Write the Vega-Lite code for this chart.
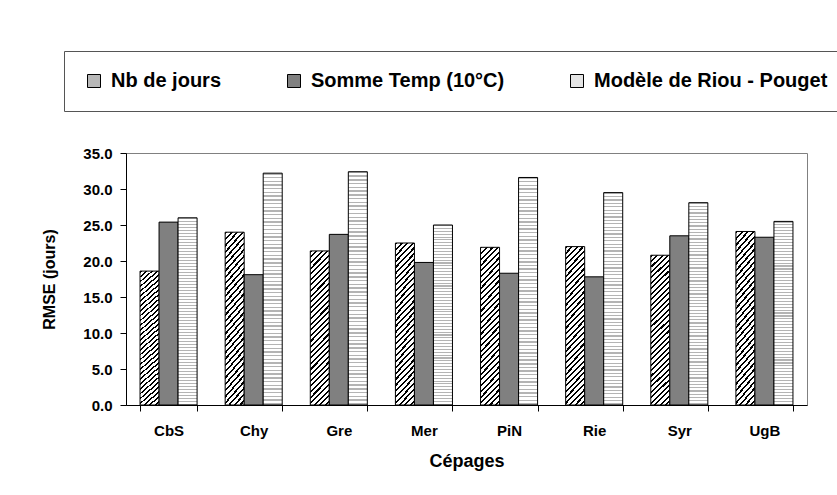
{
  "$schema": "https://vega.github.io/schema/vega-lite/v6.json",
  "width": 681,
  "height": 252,
  "autosize": {"type": "none"},
  "padding": {"left": 126, "top": 153, "right": 30, "bottom": 90},
  "background": "white",
  "config": {
    "view": {"stroke": "#808080", "strokeWidth": 1},
    "axis": {
      "labelFont": "Liberation Sans",
      "labelFontWeight": "bold",
      "labelColor": "black",
      "titleFont": "Liberation Sans",
      "titleFontWeight": "bold",
      "titleColor": "black",
      "domainColor": "black",
      "tickColor": "black",
      "grid": false
    },
    "legend": {
      "labelFont": "Liberation Sans",
      "labelFontWeight": "bold",
      "labelColor": "black"
    }
  },
  "data": {
    "values": [
      {"cepage": "CbS", "serie": "Nb de jours", "rmse": 18.6},
      {"cepage": "CbS", "serie": "Somme Temp (10°C)", "rmse": 25.4},
      {"cepage": "CbS", "serie": "Modèle de Riou - Pouget", "rmse": 26.0},
      {"cepage": "Chy", "serie": "Nb de jours", "rmse": 24.0},
      {"cepage": "Chy", "serie": "Somme Temp (10°C)", "rmse": 18.1},
      {"cepage": "Chy", "serie": "Modèle de Riou - Pouget", "rmse": 32.2},
      {"cepage": "Gre", "serie": "Nb de jours", "rmse": 21.4},
      {"cepage": "Gre", "serie": "Somme Temp (10°C)", "rmse": 23.7},
      {"cepage": "Gre", "serie": "Modèle de Riou - Pouget", "rmse": 32.4},
      {"cepage": "Mer", "serie": "Nb de jours", "rmse": 22.5},
      {"cepage": "Mer", "serie": "Somme Temp (10°C)", "rmse": 19.8},
      {"cepage": "Mer", "serie": "Modèle de Riou - Pouget", "rmse": 25.0},
      {"cepage": "PiN", "serie": "Nb de jours", "rmse": 21.9},
      {"cepage": "PiN", "serie": "Somme Temp (10°C)", "rmse": 18.3},
      {"cepage": "PiN", "serie": "Modèle de Riou - Pouget", "rmse": 31.6},
      {"cepage": "Rie", "serie": "Nb de jours", "rmse": 22.0},
      {"cepage": "Rie", "serie": "Somme Temp (10°C)", "rmse": 17.8},
      {"cepage": "Rie", "serie": "Modèle de Riou - Pouget", "rmse": 29.5},
      {"cepage": "Syr", "serie": "Nb de jours", "rmse": 20.8},
      {"cepage": "Syr", "serie": "Somme Temp (10°C)", "rmse": 23.5},
      {"cepage": "Syr", "serie": "Modèle de Riou - Pouget", "rmse": 28.1},
      {"cepage": "UgB", "serie": "Nb de jours", "rmse": 24.1},
      {"cepage": "UgB", "serie": "Somme Temp (10°C)", "rmse": 23.3},
      {"cepage": "UgB", "serie": "Modèle de Riou - Pouget", "rmse": 25.5}
    ]
  },
  "mark": {"type": "bar", "stroke": "black", "strokeWidth": 1, "fillOpacity": 1},
  "encoding": {
    "x": {
      "field": "cepage",
      "type": "nominal",
      "sort": null,
      "scale": {"paddingInner": 0.33, "paddingOuter": 0.165},
      "axis": {
        "title": "Cépages",
        "titleFontSize": 18,
        "titlePadding": 14,
        "labelFontSize": 15,
        "labelAngle": 0,
        "labelPadding": 12,
        "tickBand": "extent",
        "tickSize": 6
      }
    },
    "xOffset": {
      "field": "serie",
      "type": "nominal",
      "scale": {"domain": ["Nb de jours", "Somme Temp (10°C)", "Modèle de Riou - Pouget"], "paddingInner": 0, "paddingOuter": 0}
    },
    "y": {
      "field": "rmse",
      "type": "quantitative",
      "scale": {"domain": [0, 35], "nice": false},
      "axis": {
        "title": "RMSE (jours)",
        "titleFontSize": 16,
        "titlePadding": 25,
        "labelFontSize": 15,
        "labelPadding": 8,
        "values": [0, 5, 10, 15, 20, 25, 30, 35],
        "format": ".1f",
        "tickSize": 6
      }
    },
    "fill": {
      "field": "serie",
      "type": "nominal",
      "condition": [
        {"test": "datum.serie === 'Nb de jours'", "value": {"gradient": "linear", "x1": 0, "y1": 0, "x2": 0.14, "y2": 1.12, "stops": [
            {"offset": 0, "color": "#000000"}, {"offset": 0.012, "color": "#000000"}, {"offset": 0.012, "color": "#ffffff"}, {"offset": 0.032, "color": "#ffffff"},
            {"offset": 0.032, "color": "#000000"}, {"offset": 0.044, "color": "#000000"}, {"offset": 0.044, "color": "#ffffff"}, {"offset": 0.064, "color": "#ffffff"},
            {"offset": 0.064, "color": "#000000"}, {"offset": 0.076, "color": "#000000"}, {"offset": 0.076, "color": "#ffffff"}, {"offset": 0.096, "color": "#ffffff"},
            {"offset": 0.096, "color": "#000000"}, {"offset": 0.108, "color": "#000000"}, {"offset": 0.108, "color": "#ffffff"}, {"offset": 0.128, "color": "#ffffff"},
            {"offset": 0.128, "color": "#000000"}, {"offset": 0.14, "color": "#000000"}, {"offset": 0.14, "color": "#ffffff"}, {"offset": 0.16, "color": "#ffffff"},
            {"offset": 0.16, "color": "#000000"}, {"offset": 0.172, "color": "#000000"}, {"offset": 0.172, "color": "#ffffff"}, {"offset": 0.192, "color": "#ffffff"},
            {"offset": 0.192, "color": "#000000"}, {"offset": 0.204, "color": "#000000"}, {"offset": 0.204, "color": "#ffffff"}, {"offset": 0.224, "color": "#ffffff"},
            {"offset": 0.224, "color": "#000000"}, {"offset": 0.236, "color": "#000000"}, {"offset": 0.236, "color": "#ffffff"}, {"offset": 0.256, "color": "#ffffff"},
            {"offset": 0.256, "color": "#000000"}, {"offset": 0.268, "color": "#000000"}, {"offset": 0.268, "color": "#ffffff"}, {"offset": 0.288, "color": "#ffffff"},
            {"offset": 0.288, "color": "#000000"}, {"offset": 0.3, "color": "#000000"}, {"offset": 0.3, "color": "#ffffff"}, {"offset": 0.32, "color": "#ffffff"},
            {"offset": 0.32, "color": "#000000"}, {"offset": 0.332, "color": "#000000"}, {"offset": 0.332, "color": "#ffffff"}, {"offset": 0.352, "color": "#ffffff"},
            {"offset": 0.352, "color": "#000000"}, {"offset": 0.364, "color": "#000000"}, {"offset": 0.364, "color": "#ffffff"}, {"offset": 0.384, "color": "#ffffff"},
            {"offset": 0.384, "color": "#000000"}, {"offset": 0.396, "color": "#000000"}, {"offset": 0.396, "color": "#ffffff"}, {"offset": 0.416, "color": "#ffffff"},
            {"offset": 0.416, "color": "#000000"}, {"offset": 0.428, "color": "#000000"}, {"offset": 0.428, "color": "#ffffff"}, {"offset": 0.448, "color": "#ffffff"},
            {"offset": 0.448, "color": "#000000"}, {"offset": 0.46, "color": "#000000"}, {"offset": 0.46, "color": "#ffffff"}, {"offset": 0.48, "color": "#ffffff"},
            {"offset": 0.48, "color": "#000000"}, {"offset": 0.492, "color": "#000000"}, {"offset": 0.492, "color": "#ffffff"}, {"offset": 0.512, "color": "#ffffff"},
            {"offset": 0.512, "color": "#000000"}, {"offset": 0.524, "color": "#000000"}, {"offset": 0.524, "color": "#ffffff"}, {"offset": 0.544, "color": "#ffffff"},
            {"offset": 0.544, "color": "#000000"}, {"offset": 0.556, "color": "#000000"}, {"offset": 0.556, "color": "#ffffff"}, {"offset": 0.576, "color": "#ffffff"},
            {"offset": 0.576, "color": "#000000"}, {"offset": 0.588, "color": "#000000"}, {"offset": 0.588, "color": "#ffffff"}, {"offset": 0.608, "color": "#ffffff"},
            {"offset": 0.608, "color": "#000000"}, {"offset": 0.62, "color": "#000000"}, {"offset": 0.62, "color": "#ffffff"}, {"offset": 0.64, "color": "#ffffff"},
            {"offset": 0.64, "color": "#000000"}, {"offset": 0.652, "color": "#000000"}, {"offset": 0.652, "color": "#ffffff"}, {"offset": 0.672, "color": "#ffffff"},
            {"offset": 0.672, "color": "#000000"}, {"offset": 0.684, "color": "#000000"}, {"offset": 0.684, "color": "#ffffff"}, {"offset": 0.704, "color": "#ffffff"},
            {"offset": 0.704, "color": "#000000"}, {"offset": 0.716, "color": "#000000"}, {"offset": 0.716, "color": "#ffffff"}, {"offset": 0.736, "color": "#ffffff"},
            {"offset": 0.736, "color": "#000000"}, {"offset": 0.748, "color": "#000000"}, {"offset": 0.748, "color": "#ffffff"}, {"offset": 0.768, "color": "#ffffff"},
            {"offset": 0.768, "color": "#000000"}, {"offset": 0.78, "color": "#000000"}, {"offset": 0.78, "color": "#ffffff"}, {"offset": 0.8, "color": "#ffffff"},
            {"offset": 0.8, "color": "#000000"}, {"offset": 0.812, "color": "#000000"}, {"offset": 0.812, "color": "#ffffff"}, {"offset": 0.832, "color": "#ffffff"},
            {"offset": 0.832, "color": "#000000"}, {"offset": 0.844, "color": "#000000"}, {"offset": 0.844, "color": "#ffffff"}, {"offset": 0.864, "color": "#ffffff"},
            {"offset": 0.864, "color": "#000000"}, {"offset": 0.876, "color": "#000000"}, {"offset": 0.876, "color": "#ffffff"}, {"offset": 0.896, "color": "#ffffff"},
            {"offset": 0.896, "color": "#000000"}, {"offset": 0.908, "color": "#000000"}, {"offset": 0.908, "color": "#ffffff"}, {"offset": 0.928, "color": "#ffffff"},
            {"offset": 0.928, "color": "#000000"}, {"offset": 0.94, "color": "#000000"}, {"offset": 0.94, "color": "#ffffff"}, {"offset": 0.96, "color": "#ffffff"},
            {"offset": 0.96, "color": "#000000"}, {"offset": 0.972, "color": "#000000"}, {"offset": 0.972, "color": "#ffffff"}, {"offset": 1, "color": "#ffffff"}
          ]}},
        {"test": "datum.serie === 'Modèle de Riou - Pouget'", "value": {"gradient": "linear", "x1": 0, "y1": 0, "x2": 0, "y2": 1, "stops": [
            {"offset": 0, "color": "#b4b4b4"}, {"offset": 0.006, "color": "#b4b4b4"}, {"offset": 0.006, "color": "#ffffff"}, {"offset": 0.016, "color": "#ffffff"},
            {"offset": 0.016, "color": "#b4b4b4"}, {"offset": 0.022, "color": "#b4b4b4"}, {"offset": 0.022, "color": "#ffffff"}, {"offset": 0.032, "color": "#ffffff"},
            {"offset": 0.032, "color": "#b4b4b4"}, {"offset": 0.038, "color": "#b4b4b4"}, {"offset": 0.038, "color": "#ffffff"}, {"offset": 0.048, "color": "#ffffff"},
            {"offset": 0.048, "color": "#b4b4b4"}, {"offset": 0.054, "color": "#b4b4b4"}, {"offset": 0.054, "color": "#ffffff"}, {"offset": 0.064, "color": "#ffffff"},
            {"offset": 0.064, "color": "#b4b4b4"}, {"offset": 0.07, "color": "#b4b4b4"}, {"offset": 0.07, "color": "#ffffff"}, {"offset": 0.08, "color": "#ffffff"},
            {"offset": 0.08, "color": "#b4b4b4"}, {"offset": 0.086, "color": "#b4b4b4"}, {"offset": 0.086, "color": "#ffffff"}, {"offset": 0.096, "color": "#ffffff"},
            {"offset": 0.096, "color": "#b4b4b4"}, {"offset": 0.102, "color": "#b4b4b4"}, {"offset": 0.102, "color": "#ffffff"}, {"offset": 0.112, "color": "#ffffff"},
            {"offset": 0.112, "color": "#b4b4b4"}, {"offset": 0.118, "color": "#b4b4b4"}, {"offset": 0.118, "color": "#ffffff"}, {"offset": 0.128, "color": "#ffffff"},
            {"offset": 0.128, "color": "#b4b4b4"}, {"offset": 0.134, "color": "#b4b4b4"}, {"offset": 0.134, "color": "#ffffff"}, {"offset": 0.144, "color": "#ffffff"},
            {"offset": 0.144, "color": "#b4b4b4"}, {"offset": 0.15, "color": "#b4b4b4"}, {"offset": 0.15, "color": "#ffffff"}, {"offset": 0.16, "color": "#ffffff"},
            {"offset": 0.16, "color": "#b4b4b4"}, {"offset": 0.166, "color": "#b4b4b4"}, {"offset": 0.166, "color": "#ffffff"}, {"offset": 0.176, "color": "#ffffff"},
            {"offset": 0.176, "color": "#b4b4b4"}, {"offset": 0.182, "color": "#b4b4b4"}, {"offset": 0.182, "color": "#ffffff"}, {"offset": 0.192, "color": "#ffffff"},
            {"offset": 0.192, "color": "#b4b4b4"}, {"offset": 0.198, "color": "#b4b4b4"}, {"offset": 0.198, "color": "#ffffff"}, {"offset": 0.208, "color": "#ffffff"},
            {"offset": 0.208, "color": "#b4b4b4"}, {"offset": 0.214, "color": "#b4b4b4"}, {"offset": 0.214, "color": "#ffffff"}, {"offset": 0.224, "color": "#ffffff"},
            {"offset": 0.224, "color": "#b4b4b4"}, {"offset": 0.23, "color": "#b4b4b4"}, {"offset": 0.23, "color": "#ffffff"}, {"offset": 0.24, "color": "#ffffff"},
            {"offset": 0.24, "color": "#b4b4b4"}, {"offset": 0.246, "color": "#b4b4b4"}, {"offset": 0.246, "color": "#ffffff"}, {"offset": 0.256, "color": "#ffffff"},
            {"offset": 0.256, "color": "#b4b4b4"}, {"offset": 0.262, "color": "#b4b4b4"}, {"offset": 0.262, "color": "#ffffff"}, {"offset": 0.272, "color": "#ffffff"},
            {"offset": 0.272, "color": "#b4b4b4"}, {"offset": 0.278, "color": "#b4b4b4"}, {"offset": 0.278, "color": "#ffffff"}, {"offset": 0.288, "color": "#ffffff"},
            {"offset": 0.288, "color": "#b4b4b4"}, {"offset": 0.294, "color": "#b4b4b4"}, {"offset": 0.294, "color": "#ffffff"}, {"offset": 0.304, "color": "#ffffff"},
            {"offset": 0.304, "color": "#b4b4b4"}, {"offset": 0.31, "color": "#b4b4b4"}, {"offset": 0.31, "color": "#ffffff"}, {"offset": 0.32, "color": "#ffffff"},
            {"offset": 0.32, "color": "#b4b4b4"}, {"offset": 0.326, "color": "#b4b4b4"}, {"offset": 0.326, "color": "#ffffff"}, {"offset": 0.336, "color": "#ffffff"},
            {"offset": 0.336, "color": "#b4b4b4"}, {"offset": 0.342, "color": "#b4b4b4"}, {"offset": 0.342, "color": "#ffffff"}, {"offset": 0.352, "color": "#ffffff"},
            {"offset": 0.352, "color": "#b4b4b4"}, {"offset": 0.358, "color": "#b4b4b4"}, {"offset": 0.358, "color": "#ffffff"}, {"offset": 0.368, "color": "#ffffff"},
            {"offset": 0.368, "color": "#b4b4b4"}, {"offset": 0.374, "color": "#b4b4b4"}, {"offset": 0.374, "color": "#ffffff"}, {"offset": 0.384, "color": "#ffffff"},
            {"offset": 0.384, "color": "#b4b4b4"}, {"offset": 0.39, "color": "#b4b4b4"}, {"offset": 0.39, "color": "#ffffff"}, {"offset": 0.4, "color": "#ffffff"},
            {"offset": 0.4, "color": "#b4b4b4"}, {"offset": 0.406, "color": "#b4b4b4"}, {"offset": 0.406, "color": "#ffffff"}, {"offset": 0.416, "color": "#ffffff"},
            {"offset": 0.416, "color": "#b4b4b4"}, {"offset": 0.422, "color": "#b4b4b4"}, {"offset": 0.422, "color": "#ffffff"}, {"offset": 0.432, "color": "#ffffff"},
            {"offset": 0.432, "color": "#b4b4b4"}, {"offset": 0.438, "color": "#b4b4b4"}, {"offset": 0.438, "color": "#ffffff"}, {"offset": 0.448, "color": "#ffffff"},
            {"offset": 0.448, "color": "#b4b4b4"}, {"offset": 0.454, "color": "#b4b4b4"}, {"offset": 0.454, "color": "#ffffff"}, {"offset": 0.464, "color": "#ffffff"},
            {"offset": 0.464, "color": "#b4b4b4"}, {"offset": 0.47, "color": "#b4b4b4"}, {"offset": 0.47, "color": "#ffffff"}, {"offset": 0.48, "color": "#ffffff"},
            {"offset": 0.48, "color": "#b4b4b4"}, {"offset": 0.486, "color": "#b4b4b4"}, {"offset": 0.486, "color": "#ffffff"}, {"offset": 0.496, "color": "#ffffff"},
            {"offset": 0.496, "color": "#b4b4b4"}, {"offset": 0.502, "color": "#b4b4b4"}, {"offset": 0.502, "color": "#ffffff"}, {"offset": 0.512, "color": "#ffffff"},
            {"offset": 0.512, "color": "#b4b4b4"}, {"offset": 0.518, "color": "#b4b4b4"}, {"offset": 0.518, "color": "#ffffff"}, {"offset": 0.528, "color": "#ffffff"},
            {"offset": 0.528, "color": "#b4b4b4"}, {"offset": 0.534, "color": "#b4b4b4"}, {"offset": 0.534, "color": "#ffffff"}, {"offset": 0.544, "color": "#ffffff"},
            {"offset": 0.544, "color": "#b4b4b4"}, {"offset": 0.55, "color": "#b4b4b4"}, {"offset": 0.55, "color": "#ffffff"}, {"offset": 0.56, "color": "#ffffff"},
            {"offset": 0.56, "color": "#b4b4b4"}, {"offset": 0.566, "color": "#b4b4b4"}, {"offset": 0.566, "color": "#ffffff"}, {"offset": 0.576, "color": "#ffffff"},
            {"offset": 0.576, "color": "#b4b4b4"}, {"offset": 0.582, "color": "#b4b4b4"}, {"offset": 0.582, "color": "#ffffff"}, {"offset": 0.592, "color": "#ffffff"},
            {"offset": 0.592, "color": "#b4b4b4"}, {"offset": 0.598, "color": "#b4b4b4"}, {"offset": 0.598, "color": "#ffffff"}, {"offset": 0.608, "color": "#ffffff"},
            {"offset": 0.608, "color": "#b4b4b4"}, {"offset": 0.614, "color": "#b4b4b4"}, {"offset": 0.614, "color": "#ffffff"}, {"offset": 0.624, "color": "#ffffff"},
            {"offset": 0.624, "color": "#b4b4b4"}, {"offset": 0.63, "color": "#b4b4b4"}, {"offset": 0.63, "color": "#ffffff"}, {"offset": 0.64, "color": "#ffffff"},
            {"offset": 0.64, "color": "#b4b4b4"}, {"offset": 0.646, "color": "#b4b4b4"}, {"offset": 0.646, "color": "#ffffff"}, {"offset": 0.656, "color": "#ffffff"},
            {"offset": 0.656, "color": "#b4b4b4"}, {"offset": 0.662, "color": "#b4b4b4"}, {"offset": 0.662, "color": "#ffffff"}, {"offset": 0.672, "color": "#ffffff"},
            {"offset": 0.672, "color": "#b4b4b4"}, {"offset": 0.678, "color": "#b4b4b4"}, {"offset": 0.678, "color": "#ffffff"}, {"offset": 0.688, "color": "#ffffff"},
            {"offset": 0.688, "color": "#b4b4b4"}, {"offset": 0.694, "color": "#b4b4b4"}, {"offset": 0.694, "color": "#ffffff"}, {"offset": 0.704, "color": "#ffffff"},
            {"offset": 0.704, "color": "#b4b4b4"}, {"offset": 0.71, "color": "#b4b4b4"}, {"offset": 0.71, "color": "#ffffff"}, {"offset": 0.72, "color": "#ffffff"},
            {"offset": 0.72, "color": "#b4b4b4"}, {"offset": 0.726, "color": "#b4b4b4"}, {"offset": 0.726, "color": "#ffffff"}, {"offset": 0.736, "color": "#ffffff"},
            {"offset": 0.736, "color": "#b4b4b4"}, {"offset": 0.742, "color": "#b4b4b4"}, {"offset": 0.742, "color": "#ffffff"}, {"offset": 0.752, "color": "#ffffff"},
            {"offset": 0.752, "color": "#b4b4b4"}, {"offset": 0.758, "color": "#b4b4b4"}, {"offset": 0.758, "color": "#ffffff"}, {"offset": 0.768, "color": "#ffffff"},
            {"offset": 0.768, "color": "#b4b4b4"}, {"offset": 0.774, "color": "#b4b4b4"}, {"offset": 0.774, "color": "#ffffff"}, {"offset": 0.784, "color": "#ffffff"},
            {"offset": 0.784, "color": "#b4b4b4"}, {"offset": 0.79, "color": "#b4b4b4"}, {"offset": 0.79, "color": "#ffffff"}, {"offset": 0.8, "color": "#ffffff"},
            {"offset": 0.8, "color": "#b4b4b4"}, {"offset": 0.806, "color": "#b4b4b4"}, {"offset": 0.806, "color": "#ffffff"}, {"offset": 0.816, "color": "#ffffff"},
            {"offset": 0.816, "color": "#b4b4b4"}, {"offset": 0.822, "color": "#b4b4b4"}, {"offset": 0.822, "color": "#ffffff"}, {"offset": 0.832, "color": "#ffffff"},
            {"offset": 0.832, "color": "#b4b4b4"}, {"offset": 0.838, "color": "#b4b4b4"}, {"offset": 0.838, "color": "#ffffff"}, {"offset": 0.848, "color": "#ffffff"},
            {"offset": 0.848, "color": "#b4b4b4"}, {"offset": 0.854, "color": "#b4b4b4"}, {"offset": 0.854, "color": "#ffffff"}, {"offset": 0.864, "color": "#ffffff"},
            {"offset": 0.864, "color": "#b4b4b4"}, {"offset": 0.87, "color": "#b4b4b4"}, {"offset": 0.87, "color": "#ffffff"}, {"offset": 0.88, "color": "#ffffff"},
            {"offset": 0.88, "color": "#b4b4b4"}, {"offset": 0.886, "color": "#b4b4b4"}, {"offset": 0.886, "color": "#ffffff"}, {"offset": 0.896, "color": "#ffffff"},
            {"offset": 0.896, "color": "#b4b4b4"}, {"offset": 0.902, "color": "#b4b4b4"}, {"offset": 0.902, "color": "#ffffff"}, {"offset": 0.912, "color": "#ffffff"},
            {"offset": 0.912, "color": "#b4b4b4"}, {"offset": 0.918, "color": "#b4b4b4"}, {"offset": 0.918, "color": "#ffffff"}, {"offset": 0.928, "color": "#ffffff"},
            {"offset": 0.928, "color": "#b4b4b4"}, {"offset": 0.934, "color": "#b4b4b4"}, {"offset": 0.934, "color": "#ffffff"}, {"offset": 0.944, "color": "#ffffff"},
            {"offset": 0.944, "color": "#b4b4b4"}, {"offset": 0.95, "color": "#b4b4b4"}, {"offset": 0.95, "color": "#ffffff"}, {"offset": 0.96, "color": "#ffffff"},
            {"offset": 0.96, "color": "#b4b4b4"}, {"offset": 0.966, "color": "#b4b4b4"}, {"offset": 0.966, "color": "#ffffff"}, {"offset": 0.976, "color": "#ffffff"},
            {"offset": 0.976, "color": "#b4b4b4"}, {"offset": 0.982, "color": "#b4b4b4"}, {"offset": 0.982, "color": "#ffffff"}, {"offset": 0.992, "color": "#ffffff"},
            {"offset": 0.992, "color": "#b4b4b4"}, {"offset": 0.998, "color": "#b4b4b4"}, {"offset": 0.998, "color": "#ffffff"}, {"offset": 1, "color": "#ffffff"}
          ]}}
      ],
      "scale": {
        "domain": ["Nb de jours", "Somme Temp (10°C)", "Modèle de Riou - Pouget"],
        "range": ["#b8b8b8", "#808080", "#e4e4e4"]
      },
      "legend": {
        "title": null,
        "orient": "none",
        "legendX": -62,
        "legendY": -102,
        "direction": "horizontal",
        "strokeColor": "#555555",
        "fillColor": "white",
        "padding": 20,
        "labelFontSize": 20,
        "labelOffset": 7,
        "labelLimit": 500,
        "columnPadding": 62,
        "symbolType": "square",
        "symbolSize": 169,
        "symbolStrokeColor": "black",
        "symbolStrokeWidth": 1,
        "encode": {
          "symbols": {
            "update": {
              "stroke": {"value": "black"},
              "strokeWidth": {"value": 1},
              "opacity": {"value": 1}
            }
          }
        }
      }
    }
  }
}
